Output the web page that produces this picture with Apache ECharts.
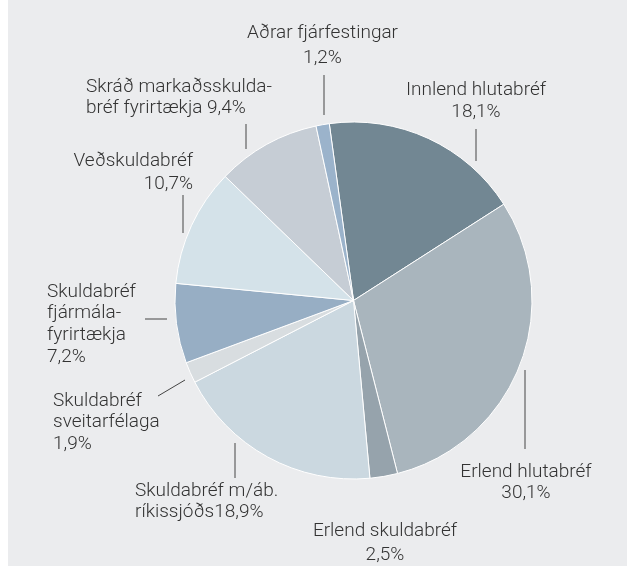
<!DOCTYPE html>
<html>
<head>
<meta charset="utf-8">
<script src="https://cdn.jsdelivr.net/npm/echarts@6/dist/echarts.min.js"></script>
<style>
  html, body { margin: 0; padding: 0; background: #ebecee; }
  #chart { width: 627px; height: 566px; }
</style>
</head>
<body>
<div id="chart"></div>
<script>
// slices, clockwise from the top
const names = ['Innlend hlutabréf', 'Erlend hlutabréf', 'Erlend skuldabréf',
  'Skuldabréf m/áb. ríkissjóðs', 'Skuldabréf sveitarfélaga', 'Skuldabréf fjármálafyrirtækja',
  'Veðskuldabréf', 'Skráð markaðsskuldabréf fyrirtækja', 'Aðrar fjárfestingar']
const values = [18.1, 30.1, 2.5, 18.9, 1.9, 7.2, 10.7, 9.4, 1.2]
const colors = ['#728793', '#a9b5bd', '#96a3ac', '#cbd8e0', '#d8dde0',
  '#97aec4', '#d4e2e9', '#c6cdd5', '#9bb3cb']
// label text as it is wrapped in the picture, {v} = value
const labelText = [
  'Innlend hlutabréf\n{v}',
  'Erlend hlutabréf\n{v}',
  'Erlend skuldabréf\n{v}',
  'Skuldabréf m/áb.\nríkissjóðs{v}',
  'Skuldabréf\nsveitarfélaga\n{v}',
  'Skuldabréf\nfjármála-\nfyrirtækja\n{v}',
  'Veðskuldabréf\n{v}',
  'Skráð markaðsskulda-\nbréf fyrirtækja {v}',
  'Aðrar fjárfestingar\n{v}'
]

// label layout: x, first baseline, align, line height
const labelPos = [
  [476, 97.5, 'center', 22],
  [526, 479.5, 'center', 21],
  [385, 537.5, 'center', 24],
  [135, 499, 'left', 21],
  [53, 408, 'left', 21.7],
  [47, 299, 'left', 21.7],
  [193, 168, 'right', 22.5],
  [86, 95, 'left', 20.5],
  [322.5, 39.3, 'center', 24.7]
]
// leader lines
const leaders = [
  [476, 129, 476, 161],
  [525, 370, 525, 449],
  null,
  [235, 443, 235, 478],
  [158, 396, 185, 380],
  [145, 319, 167, 319],
  [183, 195, 183, 233],
  [246, 124, 246, 149],
  [324, 75, 324, 115]
]

const fmt = v => v.toFixed(1).replace('.', ',') + '%'

const graphics = [{
  type: 'rect', left: 0, top: 0, silent: true,
  shape: { width: 8, height: 566 }, style: { fill: '#ffffff' }
}]
labelText.forEach((t, i) => {
  const p = labelPos[i]
  graphics.push({
    type: 'text', silent: true,
    style: {
      text: t.replace('{v}', fmt(values[i])),
      x: p[0], y: p[1] - 18,
      align: p[2], verticalAlign: 'top',
      lineHeight: p[3],
      font: '300 19px Roboto',
      fill: '#333333'
    }
  })
  if (leaders[i]) {
    const l = leaders[i]
    graphics.push({
      type: 'line', silent: true,
      shape: { x1: l[0], y1: l[1], x2: l[2], y2: l[3] },
      style: { stroke: '#444444', lineWidth: 1 }
    })
  }
})

const myChart = echarts.init(document.getElementById('chart'))
myChart.setOption({
  backgroundColor: '#ebecee',
  animation: false,
  graphic: graphics,
  series: [{
    type: 'pie',
    center: [353.5, 300.5],
    radius: 178.5,
    startAngle: 97.8,
    clockwise: true,
    label: { show: false },
    labelLine: { show: false },
    emphasis: { disabled: true },
    itemStyle: { borderColor: '#ffffff', borderWidth: 1 },
    data: names.map((n, i) => ({ name: n, value: values[i], itemStyle: { color: colors[i] } }))
  }]
})
</script>
</body>
</html>
